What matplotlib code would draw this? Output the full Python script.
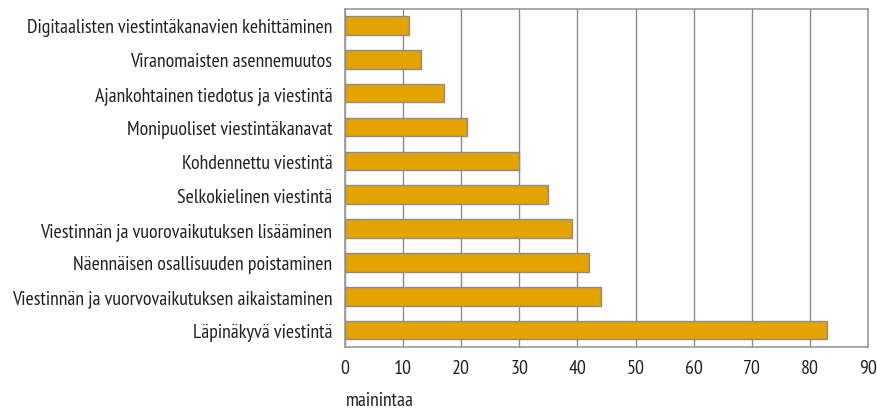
import matplotlib
matplotlib.use("Agg")
import matplotlib.pyplot as plt

categories = [
    "Läpinäkyvä viestintä",
    "Viestinnän ja vuorvovaikutuksen aikaistaminen",
    "Näennäisen osallisuuden poistaminen",
    "Viestinnän ja vuorovaikutuksen lisääminen",
    "Selkokielinen viestintä",
    "Kohdennettu viestintä",
    "Monipuoliset viestintäkanavat",
    "Ajankohtainen tiedotus ja viestintä",
    "Viranomaisten asennemuutos",
    "Digitaalisten viestintäkanavien kehittäminen",
]
values = [83, 44, 42, 39, 35, 30, 21, 17, 13, 11]
xticks = [0, 10, 20, 30, 40, 50, 60, 70, 80, 90]
xlabel = "mainintaa"

plt.rcParams["font.family"] = ["PT Sans Narrow", "DejaVu Sans"]
FS = 14.3

fig = plt.figure(figsize=(8.78, 4.14), dpi=100)
ax = fig.add_axes([0.3929, 0.1594, 0.5957, 0.8176])

ax.barh(range(len(values)), values, height=0.55, color="#E3A300",
        edgecolor="#8c8c8c", linewidth=1.0, zorder=3)
ax.set_ylim(-0.5, len(values) - 0.5)
ax.set_xlim(0, 90)
ax.set_xticks(xticks)
ax.set_xticklabels([str(t) for t in xticks], fontsize=FS, color="#222222")
ax.set_yticks(range(len(categories)))
ax.set_yticklabels(categories, fontsize=FS, color="#222222")
ax.tick_params(axis="y", length=0, pad=9)
ax.tick_params(axis="x", length=0, pad=8.5)
ax.grid(axis="x", color="#8c8c8c", linewidth=1.0, zorder=0)
for s in ax.spines.values():
    s.set_color("#999999")
    s.set_linewidth(1.2)

fig.text(0.394, 0.032, xlabel, fontsize=FS, color="#222222", ha="left", va="center")

fig.savefig("out.png", dpi=100)
